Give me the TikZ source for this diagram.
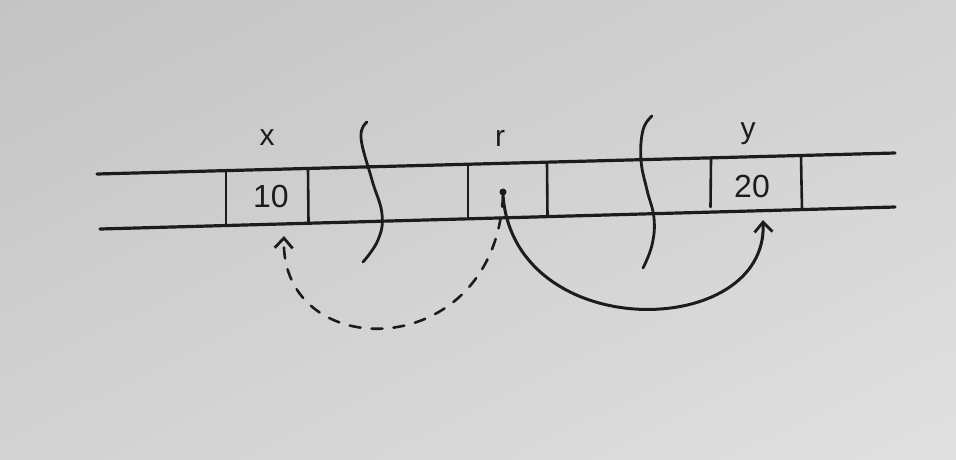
\documentclass[tikz,border=0pt]{standalone}
\usepackage{fontspec}
\setmainfont{Liberation Sans}
\usetikzlibrary{arrows.meta,shadings}
\definecolor{ink}{HTML}{1C1C1C}
\definecolor{paperA}{HTML}{C4C4C4}
\definecolor{paperM}{HTML}{D2D2D2}
\definecolor{paperB}{HTML}{E0E0E0}
\tikzset{
  pen/.style={draw=ink, line width=3.2pt, line cap=round, line join=round},
  thinpen/.style={draw=ink, line width=2.6pt, line cap=round},
  lbl/.style={inner sep=0pt, text=ink, font=\fontsize{30}{30}\selectfont},
  val/.style={inner sep=0pt, text=ink, font=\fontsize{32}{32}\selectfont},
  tip/.style={-{Straight Barb[length=10pt,width=18pt,line width=2.8pt]}},
}
\begin{document}
\begin{tikzpicture}[x=1pt,y=-1pt]
\useasboundingbox (0,0) rectangle (956,459);
\shade[upper left=paperA, upper right=paperM, lower left=paperM, lower right=paperB] (0,0) rectangle (956,459);
% tape lines
\coordinate (tl) at (97,174);   \coordinate (tr) at (895,153);
\coordinate (bl) at (100,229);  \coordinate (br) at (895,207);
\draw[pen] (tl) -- (tr);
\draw[pen] (bl) -- (br);
% dividers
\draw[thinpen] (226,171) -- (226,225.5);
\draw[thinpen] (308,168.5) -- (308.5,223);
\draw[thinpen] (468,164.5) -- (468,218.5);
\draw[thinpen] (547,162.5) -- (547.5,216.5);
\draw[thinpen] (711,159) -- (710.5,207);
\draw[thinpen] (801,156) -- (802,209.5);
% labels and values
\node[lbl] (x) at (267,138) {x};
\node[lbl] (r) at (500,138) {r};
\node[lbl] (y) at (748,134) {y};
\node[val] (v10) at (271,196) {10};
\node[val] (v20) at (752,186) {20};
% pointer dot
\node[circle, fill=ink, inner sep=0pt, minimum size=7pt] (dot) at (503,192) {};
% break marks
\draw[pen, line width=2.8pt] plot[smooth, tension=0.7] coordinates {(367,122) (361,138) (372,180) (382,214) (378,240) (363,262)};
\draw[pen, line width=2.8pt] plot[smooth, tension=0.7] coordinates {(652,116) (643,130) (641,160) (647,190) (654,218) (652,245) (643,268)};
% arrow targets
\coordinate (xb) at (284,236);
\coordinate (yb) at (763,220);
% arrows
\draw[pen, line width=3pt, tip] (dot.south) .. controls (515,345) and (768,340) .. (yb);
\draw[pen, line width=2.6pt, tip, dash pattern=on 11pt off 11pt] (dot.south) .. controls (495,365) and (280,365) .. (xb);
\end{tikzpicture}
\end{document}
